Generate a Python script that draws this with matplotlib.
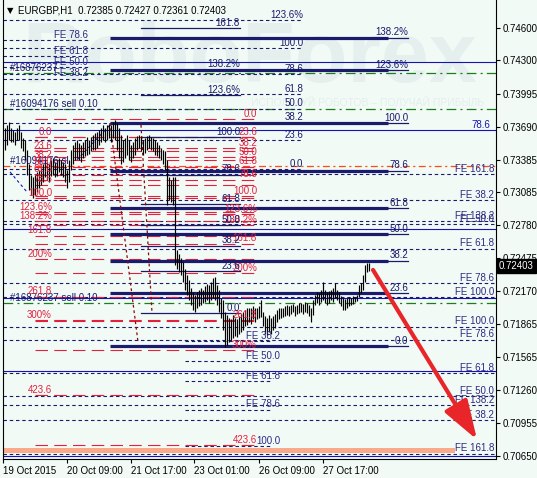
import matplotlib
matplotlib.use('Agg')
import matplotlib.pyplot as plt
from matplotlib.transforms import blended_transform_factory

plt.rcParams['font.family'] = ['Liberation Sans', 'DejaVu Sans']
plt.rcParams['lines.scale_dashes'] = False

# ---------------- data ----------------
title_text = "EURGBP,H1  0.72385 0.72427 0.72361 0.72403"
last_price = 0.72403

highs = [
    0.7368, 0.7370, 0.7373, 0.7368, 0.7366, 0.7364, 0.7368, 0.7370, 0.7364, 0.7358,
    0.7357, 0.7347, 0.7334, 0.7324, 0.7322, 0.7324, 0.7327, 0.7329, 0.7331, 0.7334,
    0.7338, 0.7336, 0.7334, 0.7338, 0.7340, 0.7336, 0.7338, 0.7340, 0.7338, 0.7336,
    0.7334, 0.7329, 0.7338, 0.7347, 0.7352, 0.7355, 0.7357, 0.7354, 0.7352, 0.7355,
    0.7357, 0.7359, 0.7357, 0.7359, 0.7361, 0.7363, 0.7364, 0.7366, 0.7368, 0.7370,
    0.7368, 0.7370, 0.7371, 0.7370, 0.7373, 0.7375, 0.7372, 0.7368, 0.7361, 0.7357,
    0.7358, 0.7361, 0.7357, 0.7352, 0.7355, 0.7358, 0.7360, 0.7361, 0.7359, 0.7357,
    0.7358, 0.7360, 0.7361, 0.7359, 0.7358, 0.7357, 0.7355, 0.7352, 0.7349, 0.7347,
    0.7346, 0.7338, 0.7322, 0.7320, 0.7322, 0.7322, 0.7255, 0.7251, 0.7248, 0.7244,
    0.7238, 0.7232, 0.7227, 0.7220, 0.7216, 0.7214, 0.7216, 0.7218, 0.7220, 0.7218,
    0.7222, 0.7224, 0.7223, 0.7226, 0.7229, 0.7230, 0.7223, 0.7218, 0.7211, 0.7209,
    0.7198, 0.7195, 0.7192, 0.7191, 0.7195, 0.7192, 0.7191, 0.7194, 0.7196, 0.7198,
    0.7200, 0.7202, 0.7202, 0.7202, 0.7203, 0.7202, 0.7202, 0.7203, 0.7209, 0.7198,
    0.7194, 0.7192, 0.7195, 0.7192, 0.7194, 0.7196, 0.7200, 0.7202, 0.7202, 0.7202,
    0.7203, 0.7204, 0.7203, 0.7204, 0.7205, 0.7203, 0.7204, 0.7206, 0.7206, 0.7205,
    0.7207, 0.7206, 0.7204, 0.7202, 0.7209, 0.7214, 0.7216, 0.7215, 0.7218, 0.7226,
    0.7218, 0.7216, 0.7217, 0.7218, 0.7220, 0.7225, 0.7218, 0.7216, 0.7213, 0.7211,
    0.7210, 0.7211, 0.7212, 0.7211, 0.7213, 0.7212, 0.7214, 0.7223, 0.7225, 0.7232,
    0.7241, 0.7243, 0.72427]
lows = [
    0.7347, 0.7352, 0.7357, 0.7355, 0.7355, 0.7352, 0.7357, 0.7357, 0.7349, 0.7346,
    0.7338, 0.7324, 0.7310, 0.7306, 0.7303, 0.7306, 0.7309, 0.7312, 0.7315, 0.7318,
    0.7322, 0.7320, 0.7318, 0.7323, 0.7324, 0.7322, 0.7323, 0.7327, 0.7324, 0.7322,
    0.7318, 0.7312, 0.7318, 0.7329, 0.7334, 0.7338, 0.7340, 0.7338, 0.7336, 0.7340,
    0.7342, 0.7343, 0.7344, 0.7346, 0.7347, 0.7347, 0.7349, 0.7352, 0.7355, 0.7357,
    0.7355, 0.7357, 0.7358, 0.7355, 0.7358, 0.7357, 0.7347, 0.7340, 0.7334, 0.7336,
    0.7340, 0.7343, 0.7338, 0.7336, 0.7340, 0.7343, 0.7347, 0.7349, 0.7346, 0.7343,
    0.7345, 0.7347, 0.7349, 0.7347, 0.7346, 0.7343, 0.7342, 0.7340, 0.7338, 0.7334,
    0.7329, 0.7297, 0.7301, 0.7299, 0.7297, 0.7241, 0.7238, 0.7235, 0.7232, 0.7226,
    0.7218, 0.7214, 0.7209, 0.7204, 0.7200, 0.7198, 0.7202, 0.7203, 0.7204, 0.7206,
    0.7207, 0.7209, 0.7206, 0.7209, 0.7211, 0.7209, 0.7204, 0.7198, 0.7192, 0.7181,
    0.7166, 0.7167, 0.7170, 0.7172, 0.7174, 0.7176, 0.7175, 0.7178, 0.7179, 0.7181,
    0.7185, 0.7186, 0.7189, 0.7187, 0.7191, 0.7189, 0.7191, 0.7192, 0.7193, 0.7185,
    0.7178, 0.7177, 0.7179, 0.7178, 0.7181, 0.7183, 0.7189, 0.7191, 0.7192, 0.7193,
    0.7194, 0.7195, 0.7194, 0.7196, 0.7198, 0.7194, 0.7196, 0.7197, 0.7198, 0.7196,
    0.7198, 0.7197, 0.7194, 0.7189, 0.7195, 0.7204, 0.7206, 0.7204, 0.7207, 0.7209,
    0.7206, 0.7204, 0.7206, 0.7209, 0.7207, 0.7211, 0.7209, 0.7206, 0.7203, 0.7200,
    0.7200, 0.7202, 0.7203, 0.7204, 0.7205, 0.7207, 0.7208, 0.7212, 0.7215, 0.7218,
    0.7226, 0.7235, 0.72361]

y_ticks = [0.74600, 0.74300, 0.73995, 0.73690, 0.73385, 0.73085, 0.72780,
           0.72475, 0.72170, 0.71865, 0.71565, 0.71260, 0.70955, 0.70650]
x_tick_bars = [-1, 31, 63, 94.5, 127, 159]
x_tick_labels = ["19 Oct 2015", "20 Oct 09:00", "21 Oct 17:00",
                 "23 Oct 01:00", "26 Oct 09:00", "27 Oct 17:00"]

# Fibonacci tools: anchor prices (level 0, level 100) and levels
fib_thick_anchor = (0.71665, 0.73723)
fib_thick_levels = [0, 23.6, 38.2, 50, 61.8, 78.6, 100, 123.6, 138.2]
fib_thin_anchor = (0.71970, 0.73594)
fib_thin_levels = [0, 23.6, 38.2, 50, 61.8, 78.6, 100, 123.6, 138.2, 161.8]
fib_dash_anchor = (0.73299, 0.74411)
fib_dash_levels = [0, 23.6, 38.2, 50, 61.8, 78.6, 100, 123.6]
red_a_anchor = (0.73594, 0.73031)
red_b_anchor = (0.73760, 0.73049)
red_levels = [0, 23.6, 38.2, 50, 61.8, 78.6, 100, 123.6, 138.2, 161.8, 200, 261.8, 300, 423.6]
fe_left_anchor = (0.73797, 0.74674)
fe_left_levels = [38.2, 50, 61.8, 78.6]
fe_r1_anchor = (0.73733, 0.71841)
fe_r2_anchor = (0.70281, 0.72117)
fe_levels = [38.2, 50, 61.8, 78.6, 100, 138.2, 161.8]
fe_mid_anchor = (0.72311, 0.70742)
fe_mid_levels = [38.2, 50, 61.8, 78.6, 100]

blue_solid_prices = [0.74286, 0.73659, 0.72745, 0.72108, 0.71434, 0.70650]
green_order_prices = [0.74185, 0.73852, 0.72062]
green_order_labels = ["#16876237", "#16094176 sell 0.10", "#16876237 sell 0.10"]
orange_sl_price = 0.73326
orange_sl_label = "#16094176 sl"
target_band = (0.70678, 0.70724)

maroon_lines = [((52.5, 0.73723), (66.5, 0.71702)), ((68, 0.73705), (73.5, 0.71970))]
blue_dotted = [((2.5, 0.73271), (11, 0.73086)), ((36, 0.73382), (52.5, 0.73705))]
arrow_start = (184, 0.72367)
arrow_end = (236, 0.70800)

# ---------------- styles ----------------
BG = '#F2FAF6'
NAVY = '#1B1B6B'
FE_COL = '#2E2A82'
BLUE = '#1414B4'
RED = '#E3213F'
GREEN = '#1A7F1A'
ORANGE = '#FF4A12'
MAROON = '#8B0A0A'

fig = plt.figure(figsize=(5.37, 4.78), dpi=100)
fig.patch.set_facecolor(BG)
ax = fig.add_axes([3 / 537, 19 / 478, 493 / 537, 459 / 478])
ax.set_facecolor(BG)
XMIN, XMAX = -1, 245.5
ax.set_xlim(XMIN, XMAX)
ax.set_ylim(0.70622, 0.74858)

def lvl(anchor, L):
    return anchor[0] + (anchor[1] - anchor[0]) * L / 100.0

def ltxt(L):
    if L in (200, 300):
        return f"{int(L)}%"
    s = f"{L:.1f}"
    if L in (123.6, 138.2):
        s += '%'
    return s

def label(x, p, txt, color, ha='right', fs=7, z=6):
    ax.annotate(txt, (x, p), xytext=(0, 0.3), textcoords='offset points',
                ha=ha, va='bottom', fontsize=fs, color=color, zorder=z)

# watermark
ax.text(0.5, 0.87, "RoboForex", transform=ax.transAxes, ha='center', va='center',
        fontsize=62, color='#E5F0EE', fontweight='bold', zorder=0)
ax.text(0.74, 0.775, "ИСПОЛЬЗУЙ РОБОТОВ – ПОЛУЧАЙ ПРИБЫЛЬ", transform=ax.transAxes,
        ha='center', va='center', fontsize=7.5, color='#E3EFED', zorder=0)

# target band
ax.fill_between([XMIN, 225], target_band[0], target_band[1], color='#FAA98B', lw=0, zorder=1)

# full-width blue solid lines
for p in blue_solid_prices:
    ax.plot([XMIN, XMAX], [p, p], color=BLUE, lw=0.8, zorder=2)
label(242.5, blue_solid_prices[1], "78.6", BLUE)

# order lines
for p, t in zip(green_order_prices, green_order_labels):
    ax.plot([XMIN, XMAX], [p, p], color=GREEN, lw=0.9, dashes=(7, 3, 1.5, 3), zorder=2)
    label(2.5, p, t, NAVY, ha='left')
ax.plot([XMIN, XMAX], [orange_sl_price] * 2, color=ORANGE, lw=0.9, dashes=(5, 2.5, 1.5, 2.5), zorder=2)
label(2.5, orange_sl_price, orange_sl_label, NAVY, ha='left')

# FE tools (navy short dash)
for L in fe_levels:
    for anc in (fe_r1_anchor, fe_r2_anchor):
        p = lvl(anc, L)
        ax.plot([XMIN, XMAX], [p, p], color=NAVY, lw=0.8, dashes=(2.5, 2), zorder=2)
        label(244.5, p, "FE " + f"{L:.1f}", FE_COL)
for L in fe_left_levels:
    p = lvl(fe_left_anchor, L)
    ax.plot([XMIN, 41.5], [p, p], color=NAVY, lw=0.8, dashes=(2.5, 2), zorder=2)
    label(41.5, p, "FE " + f"{L:.1f}", FE_COL)
for L in fe_mid_levels:
    p = lvl(fe_mid_anchor, L)
    ax.plot([90, 132.5], [p, p], color=NAVY, lw=0.8, dashes=(2.5, 2), zorder=2)
    label(137.5, p, ("FE " if L != 100 else "") + f"{L:.1f}", FE_COL)

# navy dashed fibo (labels at middle)
for L in fib_dash_levels:
    p = lvl(fib_dash_anchor, L)
    ax.plot([XMIN, 149], [p, p], color=NAVY, lw=0.8, dashes=(2.5, 2), zorder=2)
    label(149, p, ltxt(L), NAVY)

# red fibo tools
for L in red_levels:
    pa = lvl(red_a_anchor, L)
    pb = lvl(red_b_anchor, L)
    ax.plot([15, 126], [pa, pa], color=RED, lw=0.8, dashes=(9, 4.5), zorder=2)
    ax.plot([15, 126], [pb, pb], color=RED, lw=0.8, dashes=(9, 4.5), zorder=2)
    label(23.5, pa, ltxt(L), RED)
    label(126, pb, ltxt(L), RED)

# thin navy fibo
for L in fib_thin_levels:
    p = lvl(fib_thin_anchor, L)
    ax.plot([68, 117.5], [p, p], color=NAVY, lw=0.9, zorder=3)
    label(117.5, p, ltxt(L), NAVY)

# thick navy fibo
for L in fib_thick_levels:
    p = lvl(fib_thick_anchor, L)
    ax.plot([52.5, 191.5], [p, p], color=NAVY, lw=2.3, solid_capstyle='butt', zorder=3)
    ax.plot([191.5, 201.5], [p, p], color=NAVY, lw=0.9, zorder=3)
    label(201.5, p, ltxt(L), NAVY)

# diagonal anchor lines
for (a, b) in maroon_lines:
    ax.plot([a[0], b[0]], [a[1], b[1]], color=MAROON, lw=0.9, dashes=(2, 2), zorder=3)
for (a, b) in blue_dotted:
    ax.plot([a[0], b[0]], [a[1], b[1]], color=BLUE, lw=0.8, dashes=(2, 2), zorder=3)

# price bars
idx = list(range(len(highs)))
ax.vlines(idx, lows, highs, color='black', lw=0.85, zorder=4)

# forecast arrow
ax.annotate('', xy=arrow_end, xytext=arrow_start,
            arrowprops=dict(arrowstyle='-|>,head_length=1.5,head_width=0.5',
                            color='#E8262A', lw=3.0, mutation_scale=16,
                            shrinkA=0, shrinkB=0), zorder=7)

# axes styling
ax.spines['top'].set_visible(False)
for s in ['left', 'right', 'bottom']:
    ax.spines[s].set_color('black')
    ax.spines[s].set_linewidth(0.8)
ax.yaxis.tick_right()
ax.set_yticks(y_ticks)
ax.set_yticklabels([f"{v:.5f}" for v in y_ticks], fontsize=7)
ax.tick_params(axis='y', length=3, width=0.8, pad=2, colors='black')
ax.set_xticks(x_tick_bars)
ax.set_xticklabels(x_tick_labels, fontsize=7, ha='left')
ax.tick_params(axis='x', length=3, width=0.8, pad=2)

# current price box
trans = blended_transform_factory(ax.transAxes, ax.transData)
ax.text(1.006, last_price, f"{last_price:.5f}", transform=trans, ha='left', va='center',
        fontsize=7, color='white', zorder=10, clip_on=False,
        bbox=dict(boxstyle='square,pad=0.2', fc='black', ec='black'))

# title
ax.text(0.008, 0.978, "▼", transform=ax.transAxes, fontsize=6, ha='left', va='center',
        color='black', family=['DejaVu Sans'], zorder=10)
ax.text(0.03, 0.978, title_text, transform=ax.transAxes, fontsize=7, ha='left',
        va='center', color='black', zorder=10)

fig.savefig('out.png', dpi=100, facecolor=BG)
